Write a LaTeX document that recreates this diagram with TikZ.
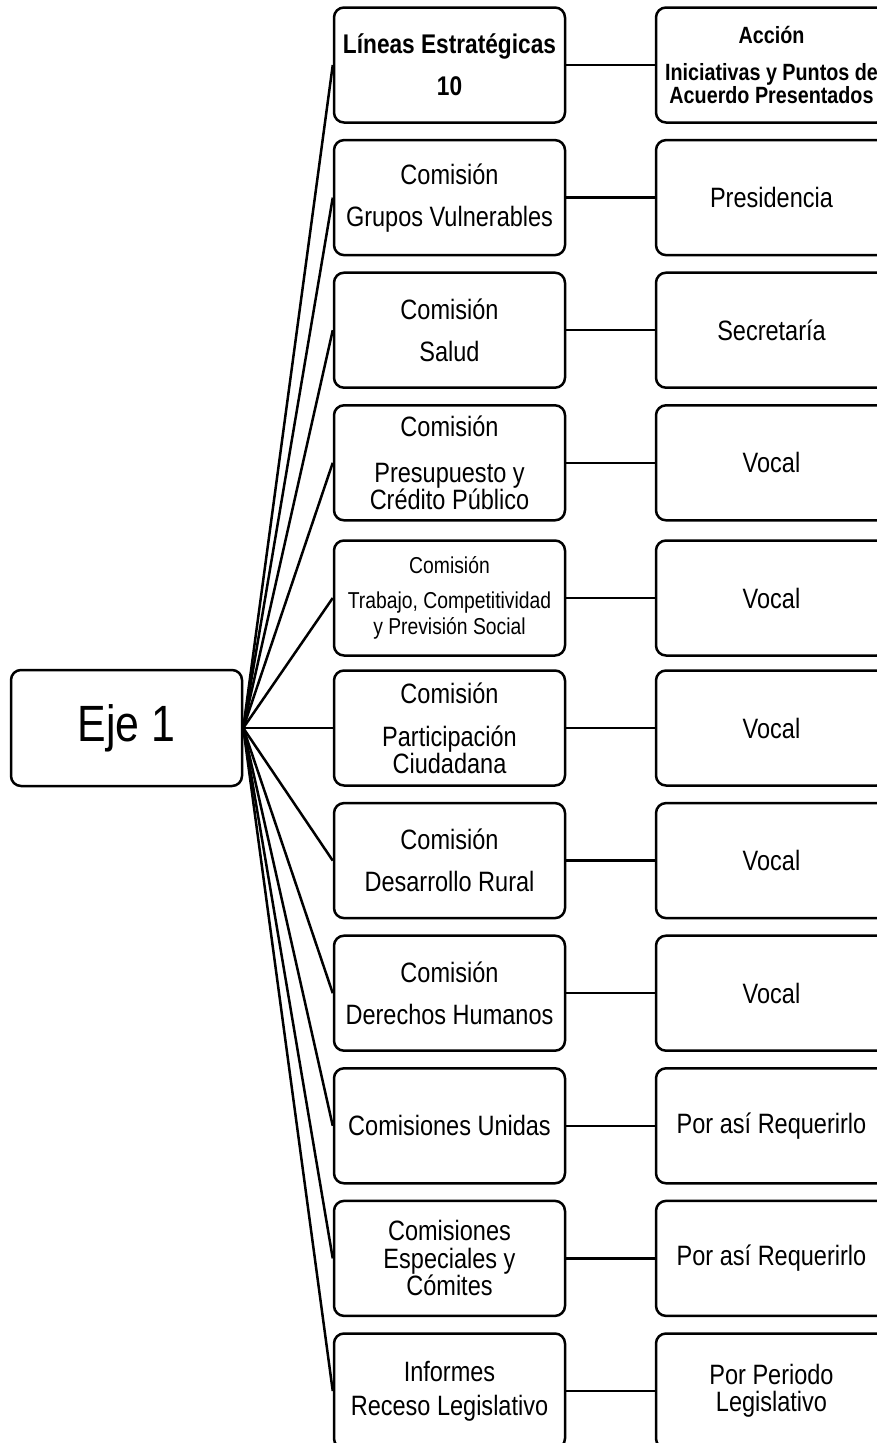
\documentclass[tikz,border=0pt]{standalone}
\usepackage{fontspec}
\setmainfont[FakeStretch=0.84]{Liberation Sans}
\usetikzlibrary{positioning}
\tikzset{
    box/.style = {
        draw,
        shape=rectangle,
        rounded corners=10pt,
        minimum height=115pt,
        minimum width=231pt,
        line width=2.5pt,
        inner sep=0pt,
        align=center,
        font=\fontsize{28}{27}\selectfont
    },
    header/.style = {
        box,
        font=\bfseries\fontsize{27}{26}\selectfont
    },
    actionhead/.style = {
        box,
        font=\bfseries\fontsize{23.5}{21}\selectfont
    },
    smallbox/.style = {
        box,
        font=\fontsize{23}{26}\selectfont
    },
    axisbox/.style = {
        box,
        minimum height=116pt,
        font=\fontsize{51}{49}\selectfont
    },
    link/.style = {
        draw,
        line width=2.5pt
    }
}

\begin{document}
\begin{tikzpicture}[x=1pt,y=-1pt]
            \clip (0,0) rectangle (877,1443);

            \node[axisbox] (eje) at (126.5,728) {Eje 1};

            \node[header] (lin1) at (449.5,65) {Líneas Estratégicas\\[16pt]10};
            \node[box] (lin2) at (449.5,197.6) {Comisión\\[15pt]Grupos Vulnerables};
            \node[box] (lin3) at (449.5,330.2) {Comisión\\[15pt]Salud};
            \node[box] (lin4) at (449.5,462.8) {Comisión\\[19pt]Presupuesto y\\Crédito Público};
            \node[smallbox] (lin5) at (449.5,598) {Comisión\\[9pt]Trabajo, Competitividad\\y Previsión Social};
            \node[box] (lin6) at (449.5,728) {Comisión\\[16pt]Participación\\Ciudadana};
            \node[box] (lin7) at (449.5,860.6) {Comisión\\[15pt]Desarrollo Rural};
            \node[box] (lin8) at (449.5,993.2) {Comisión\\[15pt]Derechos Humanos};
            \node[box] (lin9) at (449.5,1125.8) {Comisiones Unidas};
            \node[box] (lin10) at (449.5,1258.4) {Comisiones\\[1pt]Especiales y\\Cómites};
            \node[box] (lin11) at (449.5,1391) {Informes\\[7pt]Receso Legislativo};

            \node[actionhead] (acc1) at (771.5,65) {Acción\\[16pt]Iniciativas y Puntos de\\Acuerdo Presentados};
            \node[box] (acc2) at (771.5,197.6) {Presidencia};
            \node[box] (acc3) at (771.5,330.2) {Secretaría};
            \node[box] (acc4) at (771.5,462.8) {Vocal};
            \node[box] (acc5) at (771.5,598) {Vocal};
            \node[box] (acc6) at (771.5,728) {Vocal};
            \node[box] (acc7) at (771.5,860.6) {Vocal};
            \node[box] (acc8) at (771.5,993.2) {Vocal};
            \node[box] (acc9) at (771.5,1125.8) {Por así Requerirlo};
            \node[box] (acc10) at (771.5,1258.4) {Por así Requerirlo};
            \node[box] (acc11) at (771.5,1391) {Por Periodo\\Legislativo};

            \path[link] (eje.east) -- (lin1.west);
            \path[link] (eje.east) -- (lin2.west);
            \path[link] (eje.east) -- (lin3.west);
            \path[link] (eje.east) -- (lin4.west);
            \path[link] (eje.east) -- (lin5.west);
            \path[link] (eje.east) -- (lin6.west);
            \path[link] (eje.east) -- (lin7.west);
            \path[link] (eje.east) -- (lin8.west);
            \path[link] (eje.east) -- (lin9.west);
            \path[link] (eje.east) -- (lin10.west);
            \path[link] (eje.east) -- (lin11.west);

            \path[link] (lin1.east) -- (acc1.west);
            \path[link] (lin2.east) -- (acc2.west);
            \path[link] (lin3.east) -- (acc3.west);
            \path[link] (lin4.east) -- (acc4.west);
            \path[link] (lin5.east) -- (acc5.west);
            \path[link] (lin6.east) -- (acc6.west);
            \path[link] (lin7.east) -- (acc7.west);
            \path[link] (lin8.east) -- (acc8.west);
            \path[link] (lin9.east) -- (acc9.west);
            \path[link] (lin10.east) -- (acc10.west);
            \path[link] (lin11.east) -- (acc11.west);

        \end{tikzpicture}
\end{document}
